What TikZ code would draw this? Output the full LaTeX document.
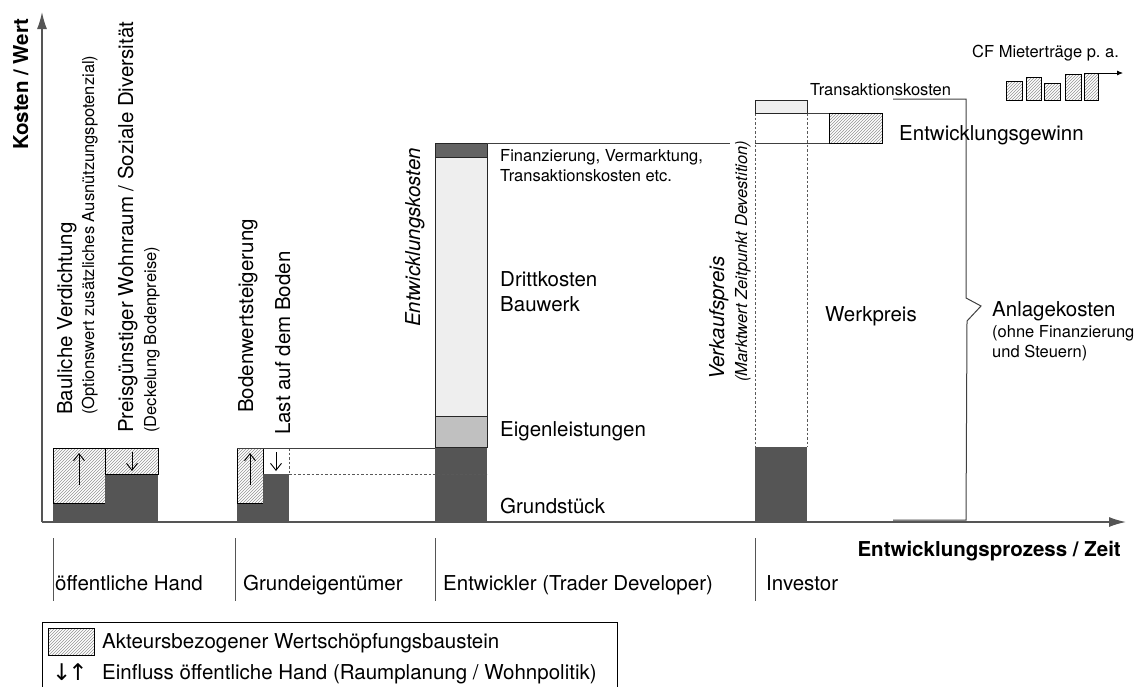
\documentclass[tikz,border=0pt]{standalone}
\usepackage{fontspec}
\setmainfont{TeX Gyre Heros}
\newfontfamily\symfont{DejaVu Sans}
\usetikzlibrary{patterns,arrows.meta}
\definecolor{darkfill}{HTML}{555555}
\definecolor{topfill}{HTML}{636363}
\definecolor{midfill}{HTML}{C0C0C0}
\definecolor{lightfill}{HTML}{EEEEEE}
\definecolor{axiscol}{HTML}{555555}
\begin{document}
\begin{tikzpicture}[x=1pt,y=-1pt,
  bigtxt/.style={font=\fontsize{20.5}{25}\selectfont, inner sep=0pt, anchor=base west},
  smalltxt/.style={font=\fontsize{16.5}{20}\selectfont, inner sep=0pt, anchor=base west},
  boldtxt/.style={font=\fontsize{20.5}{25}\selectfont\bfseries, inner sep=0pt},
  hatchbox/.style={draw=black, line width=0.8pt, preaction={fill=white}, pattern=north east lines, pattern color=black!42},
  outline/.style={draw=black!85, line width=0.8pt},
  thinline/.style={draw=black!75, line width=1pt},
  dashline/.style={draw=black!65, line width=1pt, dash pattern=on 2.5pt off 2pt},
  axis/.style={draw=axiscol, line width=1.4pt},
  inarrow/.style={draw=black, line width=0.9pt, -{Straight Barb[length=7pt,width=11pt,line width=0.9pt]}},
  sepline/.style={draw=axiscol, line width=1pt}
]
\useasboundingbox (0,0) rectangle (1137,686);

% --- oeffentliche Hand
\fill[darkfill] (53,503) rectangle (105,522);
\draw[hatchbox] (53,448) rectangle (105,503);
\fill[darkfill] (105,474) rectangle (158,522);
\draw[hatchbox] (105,448) rectangle (158,474);
\coordinate (a1s) at (79,485); \coordinate (a1e) at (79,453);
\draw[inarrow] (a1s) -- (a1e);
\coordinate (a2s) at (132,452); \coordinate (a2e) at (132,471);
\draw[inarrow] (a2s) -- (a2e);

% --- Grundeigentuemer
\fill[darkfill] (237,503) rectangle (263,522);
\draw[hatchbox] (237,448) rectangle (263,503);
\fill[darkfill] (263,474) rectangle (289,522);
\draw[dashline] (289,448) -- (289,474);
\draw[thinline] (237,448) -- (435,448);
\coordinate (a3s) at (250,485); \coordinate (a3e) at (250,453);
\draw[inarrow] (a3s) -- (a3e);
\coordinate (a4s) at (276,452); \coordinate (a4e) at (276,471);
\draw[inarrow] (a4s) -- (a4e);

% --- Entwickler
\fill[darkfill] (435,447) rectangle (487,522);
\filldraw[fill=midfill, outline] (435,416) rectangle (487,447);
\filldraw[fill=lightfill, outline] (435,157) rectangle (487,416);
\filldraw[fill=topfill, outline] (435,143) rectangle (487,157);
\draw[thinline] (487,143) -- (730,143);
\draw[dashline] (289,474) -- (487,474);

% --- Investor
\fill[darkfill] (755,447) rectangle (807,522);
\draw[dashline] (755,113) -- (755,447);
\draw[dashline] (807,113) -- (807,447);
\filldraw[fill=lightfill, outline] (755,100) rectangle (807,113);
\draw[thinline] (807,113) -- (829,113);
\draw[hatchbox] (829,113) rectangle (882,143);
\draw[thinline] (755,143) -- (829,143);
\draw[thinline] (893,99) -- (966,99) -- (966,298) -- (981,306) -- (967,321) -- (966,520) -- (893,520);

% --- CF bars
\draw[hatchbox] (1006,81) rectangle (1022,100);
\draw[hatchbox] (1026,77) rectangle (1041,100);
\draw[hatchbox] (1044,83) rectangle (1060,100);
\draw[hatchbox] (1065,74) rectangle (1081,100);
\draw[hatchbox] (1084,73) rectangle (1098,100);
\coordinate (cfs) at (1098,73); \coordinate (cfe) at (1123,73);
\draw[draw=black, line width=0.8pt, -{Latex[length=6pt,width=5pt]}] (cfs) -- (cfe);

% --- axes
\coordinate (o) at (42,522);
\coordinate (ytip) at (42,12);
\coordinate (xtip) at (1126,522);
\draw[axis, -{Latex[length=17pt,width=10pt]}] (o) -- (ytip);
\draw[axis, -{Latex[length=17pt,width=10pt]}] (o) -- (xtip);

% --- axis labels
\node[boldtxt, rotate=90, anchor=base west] (ylab) at (28,150) {Kosten / Wert};
\node[boldtxt, anchor=base east] (xlab) at (1121,556) {Entwicklungsprozess / Zeit};

% --- rotated texts
\node[bigtxt, rotate=90] (bv) at (72,415) {Bauliche Verdichtung};
\node[smalltxt, rotate=90] (ow) at (94,415) {(Optionswert zusätzliches Ausnützungspotenzial)};
\node[bigtxt, rotate=90] (pw) at (133,433) {Preisgünstiger Wohnraum / Soziale Diversität};
\node[smalltxt, rotate=90] (db) at (156,433) {(Deckelung Bodenpreise)};
\node[bigtxt, rotate=90] (bw) at (253,413) {Bodenwertsteigerung};
\node[bigtxt, rotate=90] (lb) at (290,435) {Last auf dem Boden};
\node[bigtxt, rotate=90] (ek) at (420,327) {\itshape Entwicklungskosten};
\node[bigtxt, rotate=90] (vp) at (724,380) {\itshape Verkaufspreis};
\node[smalltxt, rotate=90] (mw) at (747,382) {\itshape (Marktwert Zeitpunkt Devestition)};

% --- horizontal texts
\node[smalltxt] (fin) at (500,161) {Finanzierung, Vermarktung,};
\node[smalltxt] (tke) at (500,181) {Transaktionskosten etc.};
\node[bigtxt] (dk) at (500,286) {Drittkosten};
\node[bigtxt] (bauw) at (500,311) {Bauwerk};
\node[bigtxt] (eig) at (500,436) {Eigenleistungen};
\node[bigtxt] (gst) at (500,513) {Grundstück};
\node[bigtxt] (wp) at (825,321) {Werkpreis};
\node[bigtxt] (ak) at (992,316) {Anlagekosten};
\node[smalltxt] (ohne) at (992,337) {(ohne Finanzierung};
\node[smalltxt] (st) at (992,357) {und Steuern)};
\node[bigtxt] (eg) at (899,140) {Entwicklungsgewinn};
\node[smalltxt] (tk) at (810,95) {Transaktionskosten};
\node[smalltxt] (cf) at (972,57) {CF Mieterträge p.\ a.};

% --- actors
\draw[sepline] (53,538) -- (53,601);
\draw[sepline] (235,538) -- (235,601);
\draw[sepline] (435,538) -- (435,601);
\draw[sepline] (755,538) -- (755,601);
\node[bigtxt] (oh) at (55,590) {öffentliche Hand};
\node[bigtxt] (ge) at (243,590) {Grundeigentümer};
\node[bigtxt] (en) at (443,590) {Entwickler (Trader Developer)};
\node[bigtxt] (inv) at (766,590) {Investor};

% --- legend
\draw[draw=black, line width=0.9pt] (42,622) rectangle (617,700);
\draw[hatchbox] (48,628) rectangle (94,655);
\node[bigtxt] (lg1) at (102,648) {Akteursbezogener Wertschöpfungsbaustein};
\node[bigtxt, font=\fontsize{23}{24}\symfont] (lgsym) at (52,680) {↓\kern-3pt↑};
\node[bigtxt] (lg2) at (102,679) {Einfluss öffentliche Hand (Raumplanung / Wohnpolitik)};
\end{tikzpicture}
\end{document}
